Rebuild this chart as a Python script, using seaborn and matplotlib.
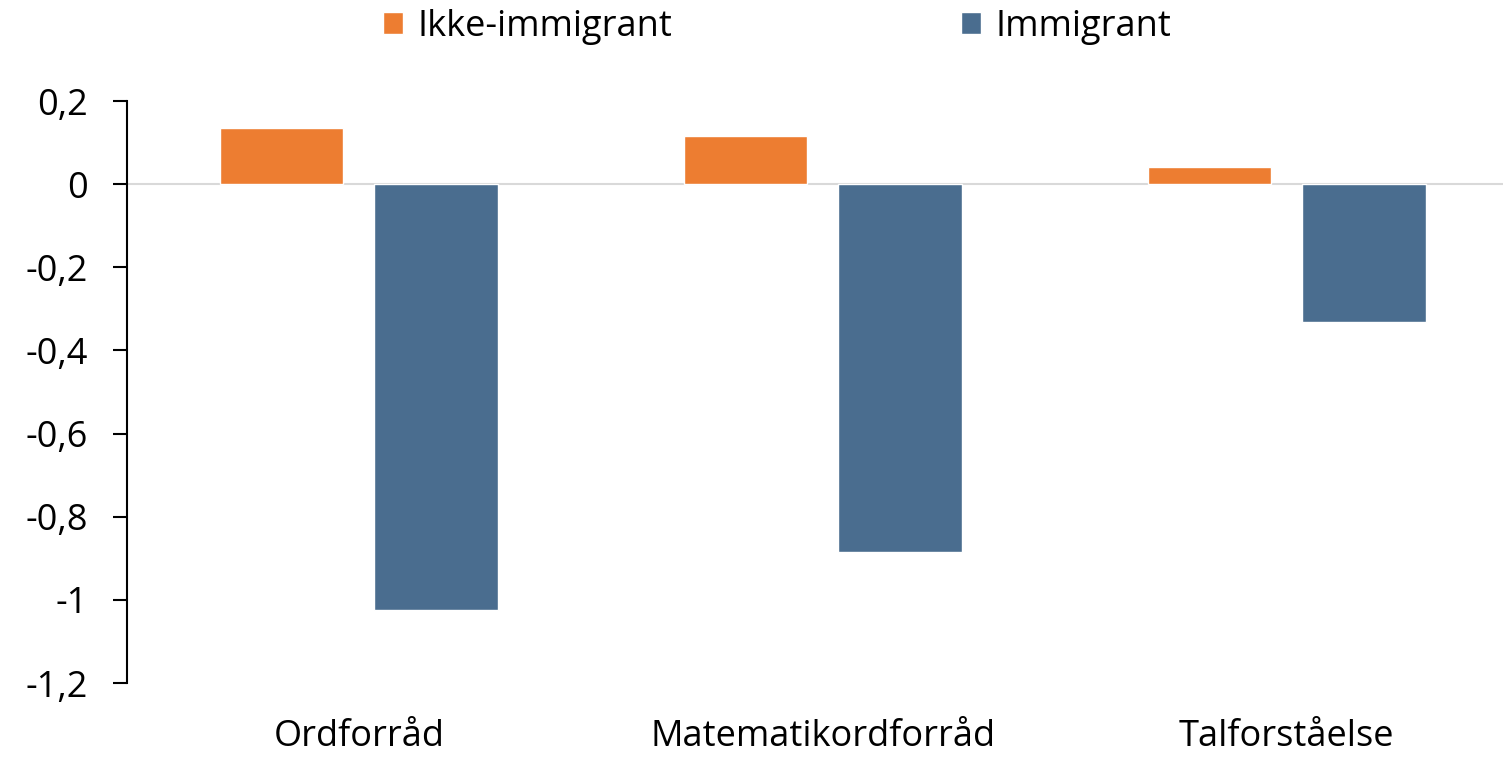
import matplotlib
matplotlib.use("Agg")
import matplotlib.pyplot as plt
import pandas as pd
import seaborn as sns

categories = ["Ordforråd", "Matematikordforråd", "Talforståelse"]
groups = ["Ikke-immigrant", "Immigrant"]
ikke_immigrant = [0.135, 0.115, 0.041]
immigrant = [-1.025, -0.884, -0.331]
y_ticks = [0.2, 0, -0.2, -0.4, -0.6, -0.8, -1, -1.2]
y_labels = ["0,2", "0", "-0,2", "-0,4", "-0,6", "-0,8", "-1", "-1,2"]
colors = ["#ED7D31", "#4A6D8F"]

df = pd.DataFrame({
    "kategori": categories * 2,
    "gruppe": [groups[0]] * 3 + [groups[1]] * 3,
    "verdi": ikke_immigrant + immigrant,
})

sns.set_style("white")
plt.rcParams["font.family"] = ["Open Sans", "DejaVu Sans"]
plt.rcParams["text.color"] = "black"

fig = plt.figure(figsize=(15.03, 7.59), dpi=100)
ax = fig.add_axes([127 / 1503, 1 - 683 / 759, 1 - 127 / 1503, (683 - 101) / 759])

sns.barplot(data=df, x="kategori", y="verdi", hue="gruppe", order=categories,
            hue_order=groups, palette=colors, width=0.667, gap=0.2,
            saturation=1, ax=ax)

ax.axhline(0, color="#D9D9D9", linewidth=1.5, zorder=0)
ax.set_ylim(-1.2, 0.2)
ax.set_xlim(-0.5, 2.466)
ax.set_yticks(y_ticks)
ax.set_yticklabels(y_labels, fontsize=26)
ax.tick_params(axis="y", left=True, direction="out", length=10, width=1.5, pad=18,
               color="black", labelcolor="black")
ax.tick_params(axis="x", length=0, pad=26, labelsize=26, labelcolor="black")
ax.set_xlabel("")
ax.set_ylabel("")

for side in ["top", "right", "bottom"]:
    ax.spines[side].set_visible(False)
ax.spines["left"].set_color("black")
ax.spines["left"].set_linewidth(1.5)

handles, labels = ax.get_legend_handles_labels()
ax.get_legend().remove()
fig.legend(handles, labels, loc="center", bbox_to_anchor=(0.517, 0.965),
           ncol=2, frameon=False, fontsize=26, handlelength=0.55, handleheight=0.55,
           handletextpad=0.4, columnspacing=8)

fig.savefig("out.png", dpi=100)
